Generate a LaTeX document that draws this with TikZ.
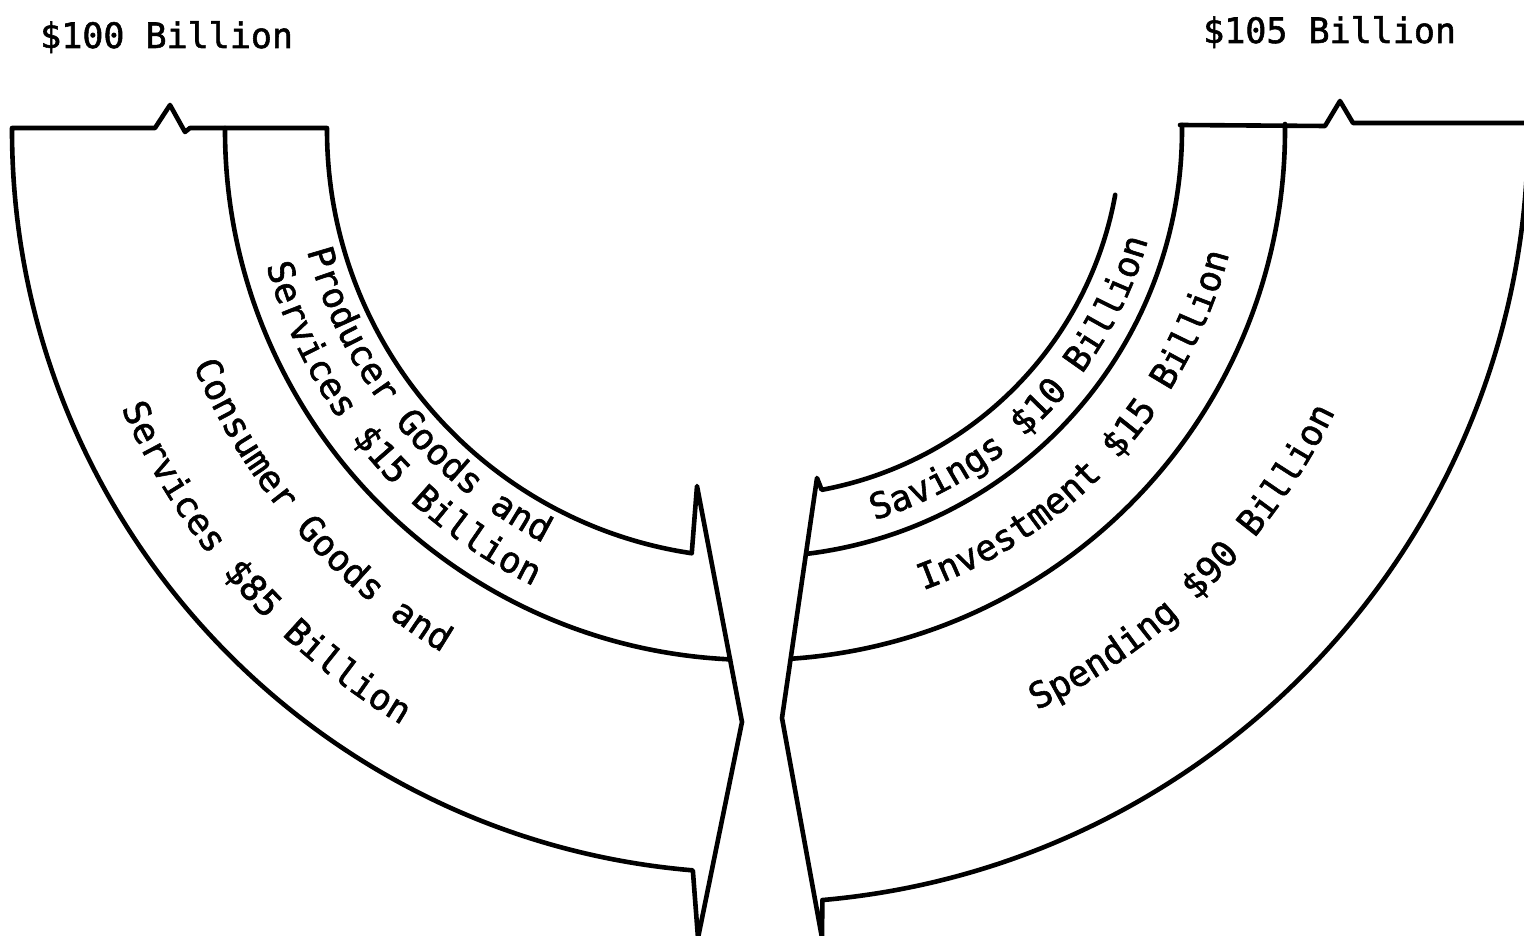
\documentclass[tikz,border=0pt]{standalone}
\usepackage{fontspec}
\usetikzlibrary{decorations.text}
\newfontfamily\letterfont{DejaVu Sans Mono}[FakeBold=1.6]
\newcommand\headfnt{\letterfont\fontsize{35pt}{40pt}\selectfont}
\newcommand\bandfnt{\letterfont\fontsize{35.7pt}{40pt}\selectfont}

\tikzset{
  outline/.style={line width=4.6pt, line join=round, line cap=round},
  heading/.style={anchor=base west, inner sep=0pt, font=\headfnt},
  bandtext/.style={decoration={text along path, text format delimiters={|}{|},
      text={|\bandfnt|#1}}, decorate},
}

\begin{document}
\begin{tikzpicture}[x=1pt,y=1pt]
  \useasboundingbox (0,0) rectangle (1524,935);
  \clip (0,0) rectangle (1524,935);
  % common centre of all the flow bands
  \coordinate (C) at (755,805);

  % ---- left: output flow -------------------------------------------
  \draw[outline] (12,807) -- (155,807) -- (170,830) -- (185,803) -- (190,807)
    -- (327,807) -- (327,805)
    arc[start angle=180, end angle=261.5, radius=428]
    -- (697,449) -- (742,213) -- (698,-3)
    -- ([shift={(265.2:743)}]C)
    arc[start angle=265.2, end angle=180, radius=743] -- cycle;
  % divider between consumer and producer goods
  \draw[outline] (225,807) -- (225,805)
    arc[start angle=180, end angle=267.3, radius=530];

  % ---- right: income flow ------------------------------------------
  \draw[outline] (1180,810) -- (1325,809) -- (1340,834) -- (1353,812) -- (1540,812);
  \draw[outline] (1528,812) -- (1528,805)
    arc[start angle=0, end angle=-85, radius=773]
    -- (822,-3) -- (782,217) -- (817,457)
    -- ([shift={(-79.5:366)}]C)
    arc[start angle=-79.5, end angle=-10.2, radius=366];
  \draw[outline] (1182,810) -- (1182,805)
    arc[start angle=0, end angle=-83, radius=427];
  \draw[outline] (1285,811) -- (1285,805)
    arc[start angle=0, end angle=-86.1, radius=530];

  % ---- headings -----------------------------------------------------
  \node[heading] (head100) at (40,887) {\$100 Billion};
  \node[heading] (head105) at (1203,892) {\$105 Billion};

  % ---- band labels set along the arcs -------------------------------
  \path[bandtext={Producer Goods and}]
    ([shift={(-164.9:464)}]C) arc[start angle=-164.9, end angle=-95, radius=464];
  \path[bandtext={Services {\$}15 Billion}]
    ([shift={(-164.5:507)}]C) arc[start angle=-164.5, end angle=-95, radius=507];
  \path[bandtext={Consumer Goods and}]
    ([shift={(-157.3:609)}]C) arc[start angle=-157.3, end angle=-100, radius=609];
  \path[bandtext={Services {\$}85 Billion}]
    ([shift={(-156.3:692)}]C) arc[start angle=-156.3, end angle=-100, radius=692];
  \path[bandtext={Savings {\$}10 Billion}]
    ([shift={(-73:408)}]C) arc[start angle=-73, end angle=0, radius=408];
  \path[bandtext={Investment {\$}15 Billion}]
    ([shift={(-69.95:490)}]C) arc[start angle=-69.95, end angle=0, radius=490];
  \path[bandtext={Spending {\$}90 Billion}]
    ([shift={(-64.1:645)}]C) arc[start angle=-64.1, end angle=-5, radius=645];
\end{tikzpicture}
\end{document}
